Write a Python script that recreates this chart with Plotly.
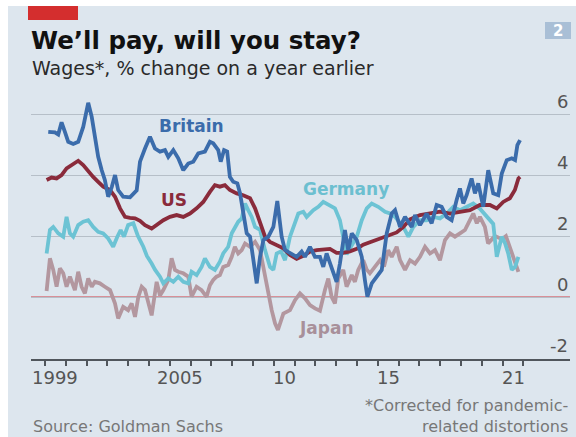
import plotly.graph_objects as go

# ---- data (decimal years, % change y/y) ----
britain_year = [1999.16, 1999.48, 1999.64, 1999.80, 1999.96, 2000.12, 2000.36, 2000.60, 2000.84, 2001.08,
                2001.25, 2001.40, 2001.56, 2001.73, 2001.88, 2002.04, 2002.21, 2002.37, 2002.52, 2002.76,
                2003.09, 2003.41, 2003.57, 2003.81, 2004.05, 2004.29, 2004.53, 2004.77, 2004.93, 2005.17,
                2005.41, 2005.65, 2005.89, 2006.13, 2006.37, 2006.69, 2006.93, 2007.09, 2007.33, 2007.45,
                2007.61, 2007.76, 2007.89, 2008.05, 2008.25, 2008.38, 2008.53, 2008.70, 2008.86, 2009.01,
                2009.18, 2009.34, 2009.50, 2009.74, 2009.98, 2010.17, 2010.38, 2010.54, 2010.86, 2011.10,
                2011.34, 2011.50, 2011.74, 2011.98, 2012.22, 2012.38, 2012.54, 2012.78, 2013.02, 2013.18,
                2013.42, 2013.58, 2013.75, 2013.99, 2014.23, 2014.38, 2014.50, 2014.71, 2014.95, 2015.19,
                2015.43, 2015.67, 2015.83, 2016.07, 2016.31, 2016.63, 2016.79, 2017.03, 2017.35, 2017.59,
                2017.83, 2018.07, 2018.31, 2018.55, 2018.79, 2018.95, 2019.11, 2019.27, 2019.51, 2019.67,
                2019.83, 2020.07, 2020.31, 2020.55, 2020.79, 2020.96, 2021.20, 2021.44, 2021.60, 2021.71,
                2021.84]
britain_val = [5.42, 5.40, 5.33, 5.73, 5.42, 5.09, 5.02, 5.09, 5.58, 6.37,
               5.91, 5.26, 4.60, 4.16, 3.84, 3.29, 3.60, 4.00, 3.51, 3.29,
               3.27, 3.50, 4.44, 4.87, 5.26, 4.87, 4.77, 4.82, 4.60, 4.82,
               4.55, 4.16, 4.38, 4.44, 4.71, 4.77, 5.09, 5.04, 4.82, 4.44,
               4.82, 4.77, 3.94, 3.78, 3.73, 3.40, 2.74, 2.09, 1.98, 1.32,
               0.45, 1.32, 1.87, 1.98, 2.30, 3.15, 1.98, 1.54, 1.43, 1.32,
               1.49, 1.32, 1.65, 1.32, 1.32, 0.99, 1.43, 0.99, 0.50, 1.10,
               2.20, 1.54, 2.09, 1.87, 1.32, 0.56, 0.01, 0.45, 0.67, 0.89,
               2.09, 2.74, 2.85, 2.30, 2.63, 2.30, 2.69, 2.36, 2.74, 2.42,
               3.02, 2.96, 2.63, 2.52, 3.18, 3.56, 3.07, 3.34, 3.89, 3.40,
               3.73, 2.96, 4.16, 3.40, 3.34, 4.05, 4.49, 4.55, 4.49, 4.98,
               5.15]

us_year = [1999.08, 1999.32, 1999.56, 1999.80, 2000.04, 2000.28, 2000.60, 2000.84, 2001.08, 2001.32,
           2001.56, 2001.80, 2002.13, 2002.37, 2002.61, 2002.85, 2003.09, 2003.33, 2003.57, 2003.81,
           2004.13, 2004.45, 2004.69, 2005.01, 2005.33, 2005.65, 2005.97, 2006.29, 2006.61, 2006.93,
           2007.17, 2007.41, 2007.65, 2007.89, 2008.22, 2008.53, 2008.86, 2009.10, 2009.34, 2009.58,
           2009.82, 2010.14, 2010.46, 2010.78, 2011.10, 2011.42, 2011.74, 2012.06, 2012.38, 2012.70,
           2013.02, 2013.34, 2013.66, 2013.99, 2014.30, 2014.62, 2014.95, 2015.26, 2015.59, 2015.91,
           2016.23, 2016.55, 2017.03, 2017.51, 2017.99, 2018.47, 2018.95, 2019.43, 2019.91, 2020.39,
           2020.72, 2021.03, 2021.35, 2021.59, 2021.76, 2021.84]
us_val = [3.84, 3.92, 3.89, 4.00, 4.22, 4.33, 4.47, 4.33, 4.11, 3.94,
          3.78, 3.62, 3.51, 3.29, 2.91, 2.63, 2.60, 2.58, 2.50, 2.36,
          2.25, 2.42, 2.52, 2.63, 2.69, 2.63, 2.74, 2.91, 3.12, 3.45,
          3.67, 3.62, 3.67, 3.51, 3.40, 3.34, 3.24, 2.91, 2.42, 1.98,
          1.81, 1.70, 1.60, 1.38, 1.25, 1.35, 1.49, 1.54, 1.55, 1.58,
          1.45, 1.45, 1.50, 1.58, 1.72, 1.80, 1.88, 1.95, 2.05, 2.12,
          2.30, 2.55, 2.69, 2.74, 2.80, 2.74, 2.80, 2.85, 3.02, 3.02,
          2.91, 3.12, 3.24, 3.51, 3.89, 3.94]

germany_year = [1999.08, 1999.24, 1999.40, 1999.64, 1999.88, 2000.04, 2000.20, 2000.36, 2000.60, 2000.84,
                2001.08, 2001.32, 2001.56, 2001.80, 2002.04, 2002.28, 2002.48, 2002.64, 2002.80, 2003.00,
                2003.25, 2003.47, 2003.73, 2003.90, 2004.13, 2004.29, 2004.53, 2004.69, 2004.93, 2005.17,
                2005.41, 2005.65, 2005.89, 2006.05, 2006.29, 2006.53, 2006.69, 2006.93, 2007.17, 2007.41,
                2007.57, 2007.81, 2007.98, 2008.13, 2008.29, 2008.46, 2008.62, 2008.77, 2008.94, 2009.10,
                2009.34, 2009.58, 2009.82, 2009.98, 2010.14, 2010.35, 2010.54, 2010.78, 2010.94, 2011.18,
                2011.42, 2011.58, 2011.90, 2012.14, 2012.38, 2012.62, 2012.94, 2013.18, 2013.34, 2013.50,
                2013.75, 2013.99, 2014.23, 2014.47, 2014.71, 2015.02, 2015.35, 2015.59, 2015.83, 2016.23,
                2016.47, 2016.71, 2017.03, 2017.35, 2017.67, 2017.99, 2018.31, 2018.63, 2018.95, 2019.27,
                2019.59, 2019.91, 2020.23, 2020.55, 2020.72, 2020.96, 2021.12, 2021.27, 2021.44, 2021.60,
                2021.76]
germany_val = [1.43, 2.20, 2.30, 2.09, 1.98, 2.63, 2.09, 1.98, 2.36, 2.47,
               2.52, 2.30, 2.14, 2.09, 1.92, 1.65, 1.98, 2.20, 1.98, 2.36,
               2.42, 2.00, 1.65, 1.35, 1.10, 0.90, 0.67, 0.45, 0.61, 0.50,
               0.67, 0.50, 0.45, 0.83, 0.72, 0.99, 1.27, 0.99, 0.89, 1.16,
               1.43, 1.65, 2.09, 2.30, 2.47, 2.58, 3.07, 2.85, 2.63, 2.30,
               2.20, 1.54, 0.99, 0.89, 1.43, 1.50, 1.21, 1.98, 2.30, 2.74,
               2.80, 2.63, 2.85, 2.96, 3.12, 3.02, 2.91, 2.52, 1.98, 1.40,
               1.70, 1.98, 2.52, 2.91, 3.07, 2.96, 2.80, 2.74, 2.63, 2.30,
               1.98, 2.30, 2.52, 2.52, 2.63, 2.58, 2.74, 2.96, 2.85, 2.96,
               3.07, 2.90, 2.63, 2.40, 1.32, 1.98, 1.76, 1.43, 0.89, 0.99,
               1.32]

japan_year = [1999.08, 1999.24, 1999.40, 1999.56, 1999.72, 1999.88, 2000.04, 2000.20, 2000.44, 2000.60,
              2000.76, 2000.92, 2001.08, 2001.25, 2001.40, 2001.64, 2001.88, 2002.13, 2002.37, 2002.52,
              2002.76, 2003.00, 2003.17, 2003.33, 2003.49, 2003.65, 2003.81, 2003.97, 2004.13, 2004.37,
              2004.53, 2004.69, 2004.93, 2005.09, 2005.25, 2005.41, 2005.65, 2005.89, 2006.05, 2006.29,
              2006.53, 2006.77, 2006.93, 2007.09, 2007.25, 2007.41, 2007.57, 2007.81, 2007.98, 2008.13,
              2008.29, 2008.46, 2008.62, 2008.86, 2009.10, 2009.34, 2009.58, 2009.74, 2009.90, 2010.06,
              2010.20, 2010.46, 2010.78, 2011.02, 2011.26, 2011.50, 2011.74, 2011.98, 2012.22, 2012.46,
              2012.62, 2012.78, 2012.94, 2013.10, 2013.34, 2013.50, 2013.75, 2013.90, 2014.06, 2014.30,
              2014.47, 2014.62, 2014.86, 2015.11, 2015.30, 2015.50, 2015.67, 2015.91, 2016.07, 2016.31,
              2016.55, 2016.79, 2017.03, 2017.27, 2017.51, 2017.75, 2017.99, 2018.23, 2018.47, 2018.71,
              2018.95, 2019.19, 2019.43, 2019.59, 2019.76, 2019.91, 2020.15, 2020.30, 2020.63, 2020.97,
              2021.16, 2021.35, 2021.51, 2021.76]
japan_val = [0.20, 1.27, 0.89, 0.34, 0.94, 0.78, 0.34, 0.67, 0.23, 0.83,
             0.34, 0.12, 0.61, 0.34, 0.50, 0.45, 0.34, 0.23, -0.21, -0.70,
             -0.32, -0.43, -0.21, -0.65, 0.01, 0.34, 0.23, -0.21, -0.60, 0.50,
             0.05, 0.23, 0.56, 1.27, 0.89, 0.83, 0.78, 0.67, 0.01, 0.34,
             0.23, 0.01, 0.39, 0.56, 0.67, 0.72, 0.99, 1.05, 1.32, 1.65,
             1.43, 1.54, 1.76, 1.65, 1.81, 1.54, 0.67, 0.01, -0.43, -0.86,
             -1.08, -0.54, -0.43, -0.10, 0.12, -0.04, -0.26, -0.37, -0.45, 0.23,
             0.61, 0.01, -0.21, 0.61, 0.89, 0.34, 0.72, 0.50, 0.89, 1.21,
             0.90, 0.78, 0.99, 1.21, 1.00, 1.54, 1.32, 1.65, 1.21, 0.89,
             1.21, 1.10, 1.32, 1.65, 1.43, 1.54, 1.21, 1.87, 2.09, 1.98,
             2.09, 2.20, 2.52, 2.74, 2.42, 2.63, 2.30, 1.76, 2.00, 1.90,
             2.00, 1.65, 1.32, 0.83]

y_ticks = [6, 4, 2, 0, -2]
x_tick_years = [1999, 2005, 2010, 2015, 2021]
x_tick_text = ["1999", "2005", "10", "15", "21"]

# ---- styling ----
BG = "#dde6ee"
FONT = "DejaVu Sans"
C_BRIT = "#3b6cab"
C_US = "#8a2b3b"
C_GER = "#6cc3d4"
C_JAP = "#b3979f"

fig = go.Figure()
for xs, ys, col in [(japan_year, japan_val, C_JAP), (germany_year, germany_val, C_GER),
                    (us_year, us_val, C_US), (britain_year, britain_val, C_BRIT)]:
    fig.add_trace(go.Scatter(x=xs, y=ys, mode="lines",
                             line=dict(color=col, width=3.8), hoverinfo="skip"))

fig.update_layout(
    width=576, height=437,
    margin=dict(l=31, r=6, t=90, b=78),
    paper_bgcolor=BG, plot_bgcolor=BG,
    showlegend=False,
    font=dict(family=FONT, color="#555555"),
    xaxis=dict(range=[1998.33, 2024.24], showgrid=False, zeroline=False,
               tickvals=list(range(1999, 2023)), ticktext=[""] * 24,
               ticks="outside", ticklen=5, tickwidth=1.5, tickcolor="#50565c",
               showline=True, linecolor="#50565c", linewidth=1.5),
    yaxis=dict(range=[-2.03, 6.79], tickvals=y_ticks, showticklabels=False,
               showgrid=True, gridcolor="#b6bfc8", gridwidth=1, zeroline=False),
)

# zero line
fig.add_shape(type="line", xref="paper", yref="y", x0=0, x1=1, y0=0, y1=0,
              line=dict(color="#d6737b", width=1.5), layer="below")

# y tick labels (above gridlines, right aligned)
for v in y_ticks:
    fig.add_annotation(xref="paper", yref="y", x=1.0, y=v, text=str(v),
                       showarrow=False, xanchor="right", yanchor="bottom", yshift=0,
                       font=dict(size=18, color="#555555", family=FONT))

# x tick labels centred on year
for yr, t in zip(x_tick_years, x_tick_text):
    fig.add_annotation(xref="x", yref="paper", x=yr + 0.5, y=0, text=t,
                       showarrow=False, xanchor="center", yanchor="top", yshift=-6,
                       font=dict(size=18, color="#555555", family=FONT))

# series labels
for txt, x, y, col in [("Britain", 2006.05, 5.6, C_BRIT), ("US", 2005.2, 3.19, C_US),
                       ("Germany", 2013.45, 3.55, "#6cbfd0"), ("Japan", 2012.55, -1.0, "#a8909a")]:
    fig.add_annotation(xref="x", yref="y", x=x, y=y, text="<b>%s</b>" % txt, showarrow=False,
                       xanchor="center", yanchor="middle",
                       font=dict(size=17, color=col, family=FONT))

# title & subtitle
fig.add_annotation(xref="paper", yref="paper", x=-0.003, y=1, xanchor="left", yanchor="middle",
                   yshift=50, text="<b>We’ll pay, will you stay?</b>", showarrow=False,
                   font=dict(size=24.5, color="#111111", family=FONT))
fig.add_annotation(xref="paper", yref="paper", x=-0.002, y=1, xanchor="left", yanchor="middle",
                   yshift=22, text="Wages*, % change on a year earlier", showarrow=False,
                   font=dict(size=19, color="#2a2a2a", family=FONT))

# source & footnote
fig.add_annotation(xref="paper", yref="paper", x=0.0, y=0, xanchor="left", yanchor="middle",
                   yshift=-67, text="Source: Goldman Sachs", showarrow=False,
                   font=dict(size=16, color="#777777", family=FONT))
fig.add_annotation(xref="paper", yref="paper", x=1.0, y=0, xanchor="right", yanchor="middle",
                   yshift=-57, align="right",
                   text="*Corrected for pandemic-<br>related distortions", showarrow=False,
                   font=dict(size=16, color="#777777", family=FONT))

# decorations: white edges, red tag, chart number box
fig.add_shape(type="rect", xref="paper", yref="paper", xsizemode="pixel", ysizemode="pixel",
              xanchor=0, yanchor=1, x0=-40, x1=600, y0=90, y1=84,
              fillcolor="white", line_width=0, layer="above")
fig.add_shape(type="rect", xref="paper", yref="paper", xsizemode="pixel", ysizemode="pixel",
              xanchor=0, yanchor=1, x0=-40, x1=-23, y0=90, y1=-400,
              fillcolor="white", line_width=0, layer="above")
fig.add_shape(type="rect", xref="paper", yref="paper", xsizemode="pixel", ysizemode="pixel",
              xanchor=0, yanchor=1, x0=-3, x1=47, y0=84, y1=70,
              fillcolor="#d42e2e", line_width=0, layer="above")
fig.add_shape(type="rect", xref="paper", yref="paper", xsizemode="pixel", ysizemode="pixel",
              xanchor=0, yanchor=1, x0=514, x1=540, y0=68, y1=51,
              fillcolor="#a9bfd6", line_width=0, layer="above")
fig.add_annotation(xref="paper", yref="paper", x=1.0, y=1, xanchor="center", yanchor="middle",
                   xshift=-12, yshift=59.5, text="<b>2</b>", showarrow=False,
                   font=dict(size=15, color="white", family=FONT))

fig.write_html("out.html")
